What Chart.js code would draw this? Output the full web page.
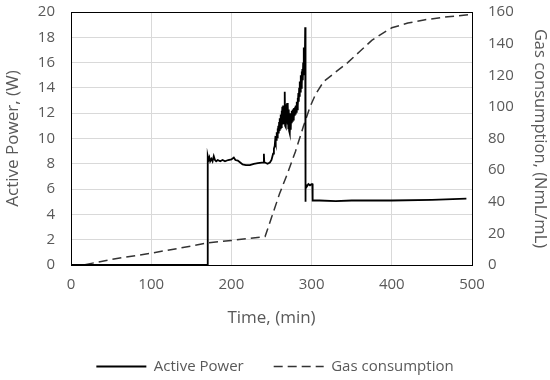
<!DOCTYPE html>
<html>
<head>
<meta charset="utf-8">
<script src="https://cdn.jsdelivr.net/npm/chart.js@4"></script>
<style>
  html, body { margin: 0; padding: 0; background: #fff; }
  #wrap { width: 550px; height: 380px; }
</style>
</head>
<body>
<div id="wrap"><canvas id="chart"></canvas></div>
<script>
// Active power: time (min) and value (W)
const powerTime = [
  0, 170, 170.5, 171.5, 172.5, 173.5, 175, 176.5, 178, 179.5, 181, 183, 186, 189, 192, 196, 200, 203, 205, 208, 211, 214, 218, 223, 228, 233, 238, 240, 240.5, 241,
  242, 245, 248, 250, 252, 253,
  254, 254.5, 255, 255.5, 256, 256.5, 257, 257.5, 258, 258.5, 259, 259.5, 260, 260.5, 261, 261.5, 262, 262.5, 263, 263.5, 264, 264.5, 265, 265.5,
  266, 266.5, 267, 267.5, 268, 268.5, 269, 269.5, 270, 270.5, 271, 271.5, 272, 272.5, 273, 273.5, 274, 274.5, 275, 275.5,
  276, 276.5, 277, 277.5, 278, 278.5, 279, 279.5, 280, 280.5, 281, 281.5, 282, 282.5, 283, 283.5, 284, 284.5, 285, 285.5,
  286, 286.5, 287, 287.5, 288, 288.5, 289, 289.5, 290, 290.5, 291, 291.5, 292, 292.3, 292.6, 294, 296, 298, 300, 301, 301.3,
  310, 330, 350, 400, 450, 493
];
const powerValues = [
  0, 0, 8.6, 8.3, 8.5, 8.2, 8.4, 8.2, 8.6, 8.3, 8.2, 8.3, 8.2, 8.3, 8.2, 8.3, 8.35, 8.5, 8.3, 8.25, 8.1, 7.95, 7.9, 7.9, 8.0, 8.05, 8.1, 8.1, 8.8, 8.1,
  8.1, 8.0, 8.1, 8.3, 8.8, 9.2,
  9.4, 9.8, 9.6, 10.2, 9.9, 10.5, 10.1, 10.8, 10.3, 11.0, 10.4, 11.3, 10.6, 11.6, 10.8, 11.9, 10.9, 12.2, 11.0, 12.5, 11.1, 12.6, 11.3, 12.4,
  11.2, 13.7, 11.0, 12.7, 10.9, 12.5, 11.3, 12.8, 11.1, 12.6, 10.8, 12.3, 10.6, 12.0, 10.4, 11.8, 10.7, 12.0, 11.2, 12.2,
  11.4, 12.3, 11.5, 12.4, 11.6, 12.4, 11.8, 12.5, 11.9, 12.6, 12.1, 12.9, 12.3, 13.2, 12.6, 13.6, 12.9, 14.0, 13.3, 14.5,
  13.7, 15.0, 14.0, 15.3, 14.3, 15.5, 14.6, 16.0, 15.0, 17.2, 15.4, 15.5, 18.8, 5.0, 6.4, 6.2, 6.4, 6.3, 6.4, 6.4, 5.1,
  5.1, 5.05, 5.1, 5.1, 5.15, 5.25
];

// Gas consumption: time (min) and value (NmL/mL)
const gasTime = [0, 15, 50, 100, 150, 170, 200, 242, 250, 260, 270, 280, 290, 298, 305, 315, 330, 345, 360, 375, 390, 400, 420, 440, 470, 500];
const gasValues = [0, 0, 3.5, 7.5, 12, 14, 15.5, 18, 30, 45, 58, 72, 88, 100, 108, 116, 122, 128, 135, 142, 147, 150, 153, 155, 157, 158.5];

const textColor = "#595959";
const fontFamily = "'Open Sans', sans-serif";

function toPoints(xs, ys) {
  return xs.map((x, i) => ({ x: x, y: ys[i] }));
}

// top edge of the plot frame
const framePlugin = {
  id: "frame",
  afterDraw(chart) {
    const { ctx, chartArea } = chart;
    ctx.save();
    ctx.strokeStyle = "#000";
    ctx.lineWidth = 1;
    ctx.beginPath();
    ctx.moveTo(chartArea.left, chartArea.top + 0.5);
    ctx.lineTo(chartArea.right, chartArea.top + 0.5);
    ctx.stroke();
    ctx.restore();
  },
};

// vertical axes: keep tick padding for spacing, drop the extra top/bottom room it adds
function fixVertical(width) {
  return (scale) => {
    scale.width = width;
    scale.paddingTop = 0;
    scale.paddingBottom = 0;
  };
}

new Chart(document.getElementById("chart"), {
  type: "scatter",
  data: {
    datasets: [
      {
        label: "Active Power",
        data: toPoints(powerTime, powerValues),
        showLine: true,
        tension: 0,
        borderColor: "#000",
        backgroundColor: "#000",
        borderWidth: 1.8,
        pointRadius: 0,
        yAxisID: "y",
      },
      {
        label: "Gas consumption",
        data: toPoints(gasTime, gasValues),
        showLine: true,
        tension: 0,
        borderColor: "#333",
        backgroundColor: "#333",
        borderWidth: 1.5,
        borderDash: [9, 5],
        pointRadius: 0,
        yAxisID: "y2",
      },
    ],
  },
  options: {
    responsive: true,
    maintainAspectRatio: false,
    animation: false,
    layout: { padding: { top: 12, bottom: -4, left: 0, right: 0 } },
    plugins: {
      tooltip: { enabled: false },
      legend: {
        position: "bottom",
        labels: {
          usePointStyle: true,
          pointStyle: "line",
          pointStyleWidth: 50,
          color: textColor,
          padding: 30,
          font: { family: fontFamily, size: 15 },
          generateLabels(chart) {
            const items = Chart.defaults.plugins.legend.labels.generateLabels(chart);
            items.forEach((item) => {
              const ds = chart.data.datasets[item.datasetIndex];
              item.lineDash = ds.borderDash || [];
              item.lineWidth = ds.borderWidth;
              item.strokeStyle = ds.borderColor;
            });
            return items;
          },
        },
      },
    },
    scales: {
      x: {
        type: "linear",
        min: 0,
        max: 500,
        ticks: { stepSize: 100, color: textColor, padding: 11, font: { family: fontFamily, size: 15 } },
        grid: { color: "#d9d9d9", drawTicks: false },
        border: { color: "#000", width: 1 },
        title: { display: true, text: "Time, (min)", color: textColor, padding: { top: 0, bottom: 1 }, font: { family: fontFamily, size: 17 } },
        afterFit(scale) { scale.height = 64; },
      },
      y: {
        position: "left",
        min: 0,
        max: 20,
        ticks: { stepSize: 2, color: textColor, padding: 16, font: { family: fontFamily, size: 15 } },
        grid: { color: "#d9d9d9", drawTicks: false },
        border: { color: "#000", width: 1 },
        title: { display: true, text: "Active Power, (W)", color: textColor, padding: { top: 3, bottom: 0 }, font: { family: fontFamily, size: 17 } },
        afterFit: fixVertical(71),
      },
      y2: {
        position: "right",
        min: 0,
        max: 160,
        ticks: { stepSize: 20, color: textColor, padding: 16, font: { family: fontFamily, size: 15 } },
        grid: { drawOnChartArea: false, drawTicks: false },
        border: { color: "#000", width: 1 },
        title: { display: true, text: "Gas consumption, (NmL/mL)", color: textColor, padding: { top: 0, bottom: 0 }, font: { family: fontFamily, size: 16.5 } },
        afterFit: fixVertical(78),
      },
    },
  },
  plugins: [framePlugin],
});
</script>
</body>
</html>
